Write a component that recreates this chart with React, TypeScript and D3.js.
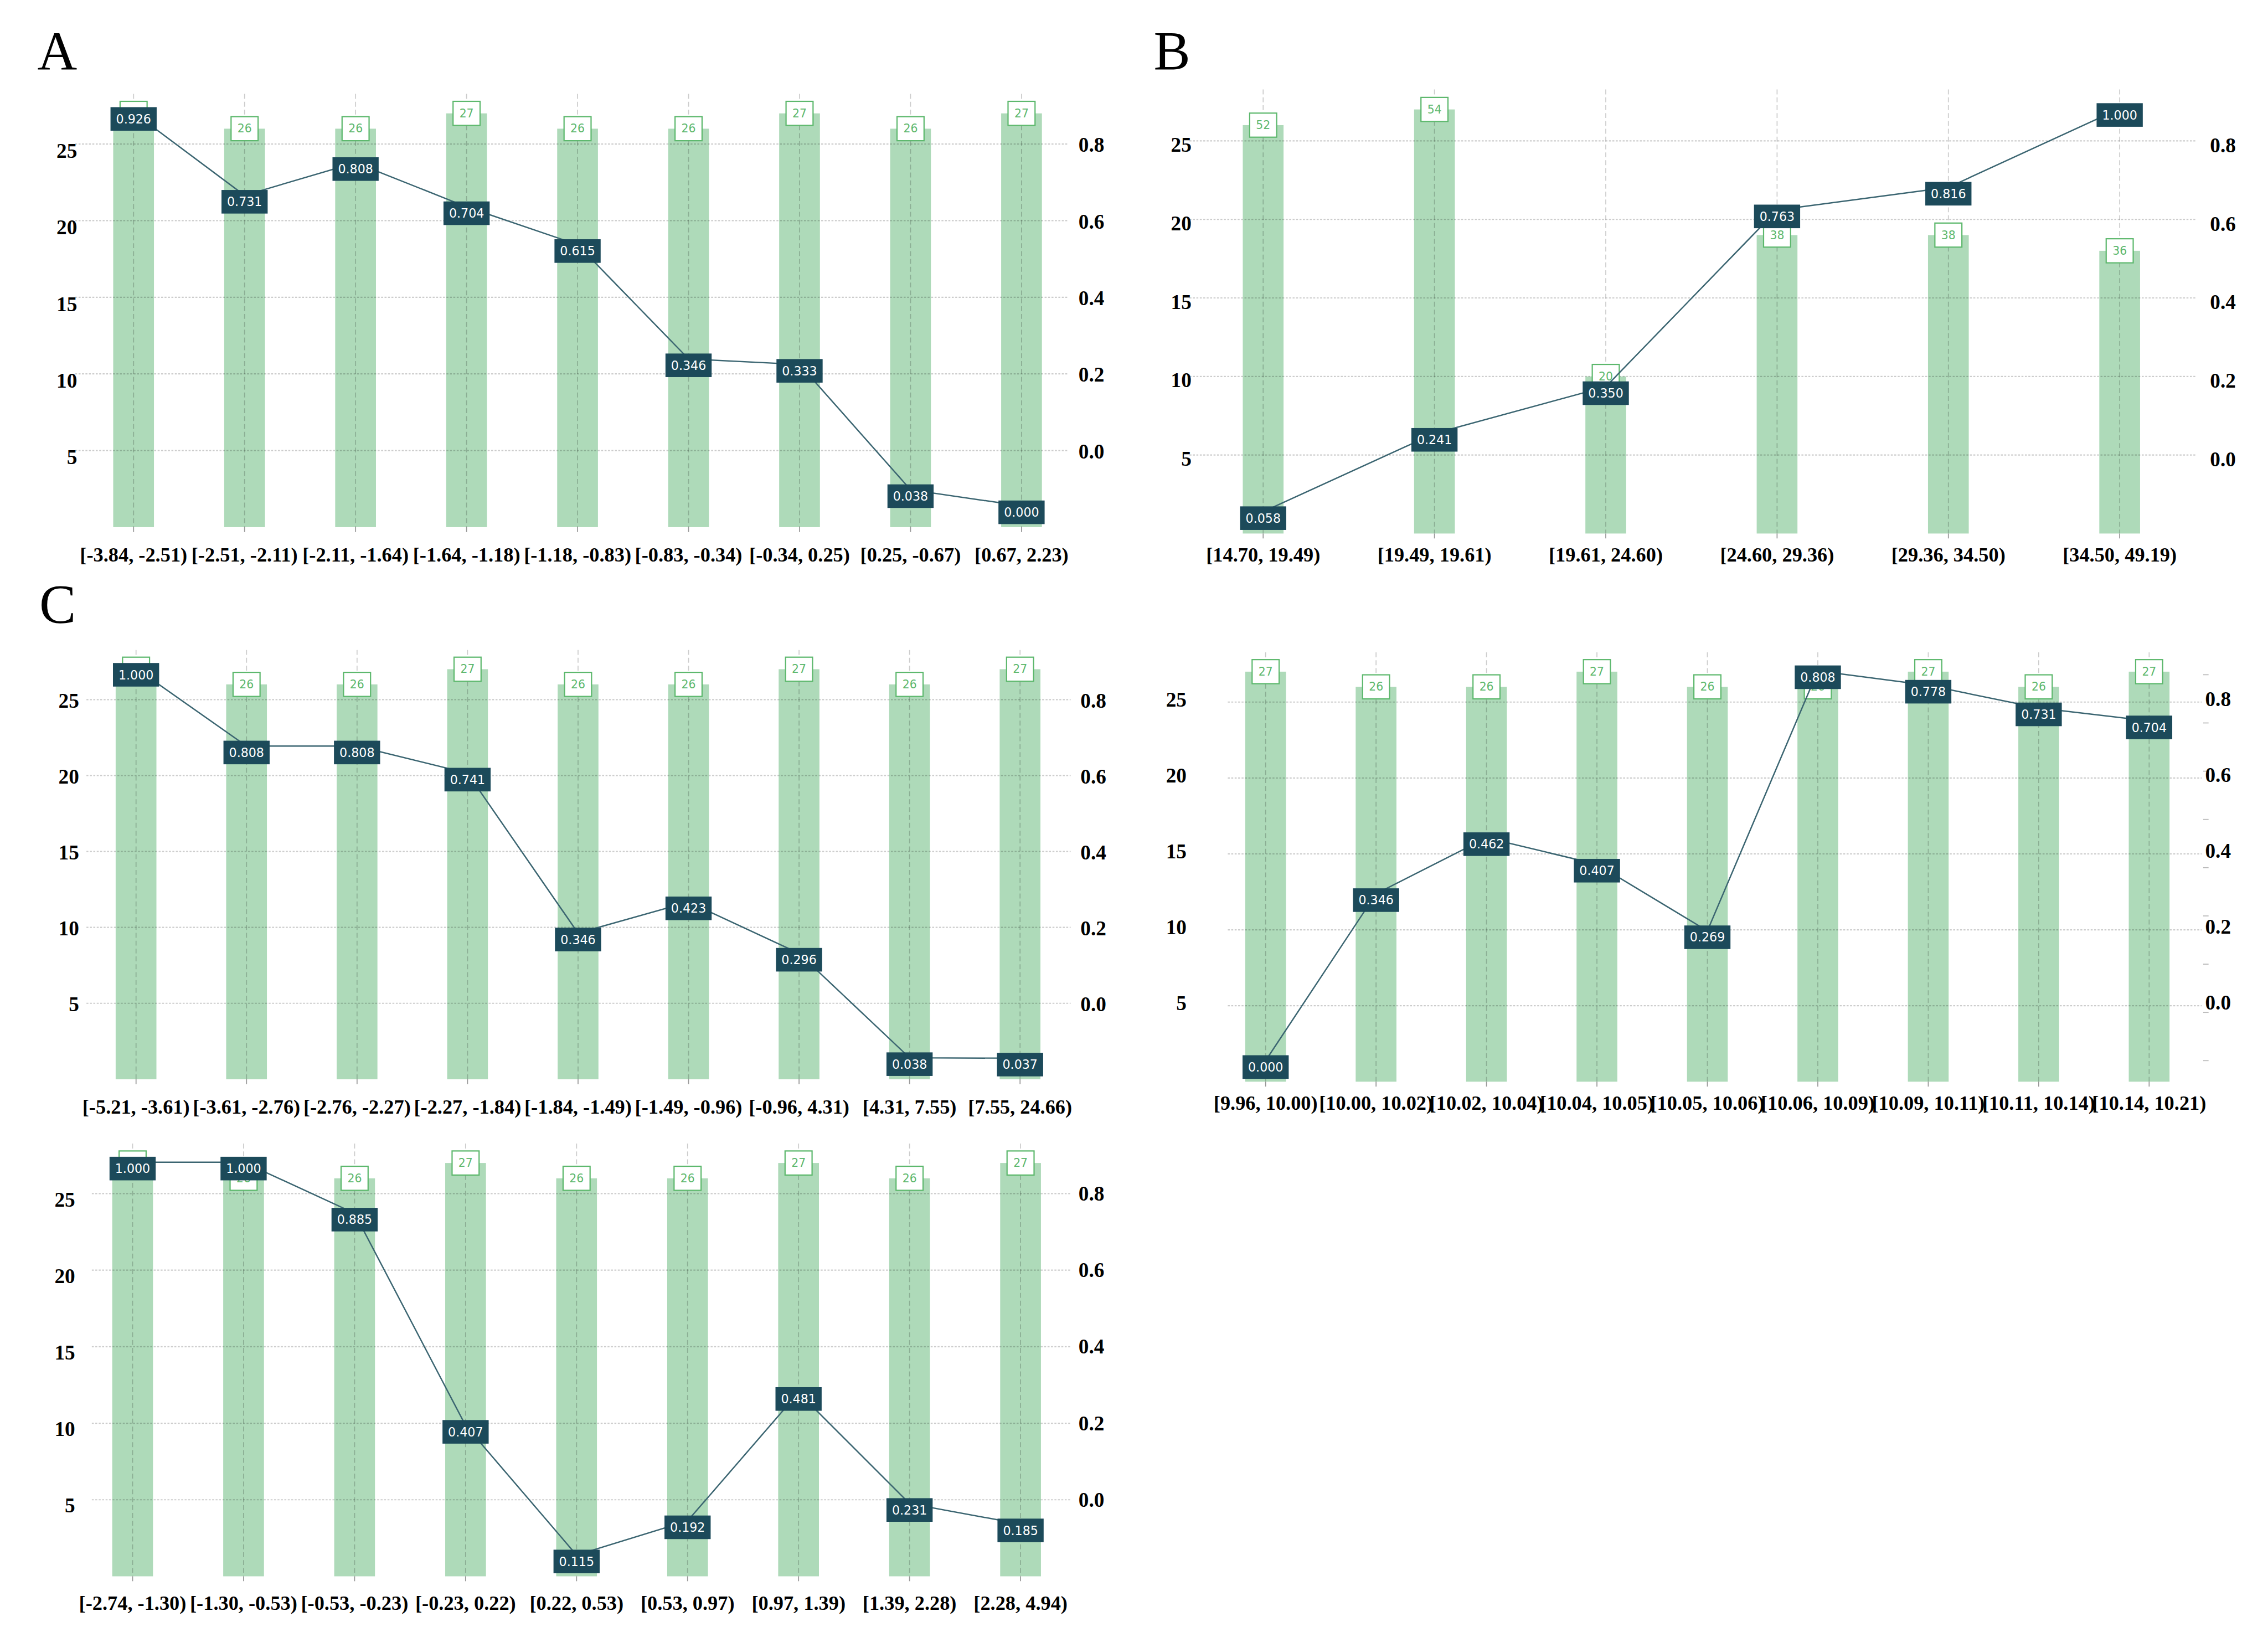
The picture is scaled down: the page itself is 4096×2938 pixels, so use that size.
import * as d3 from "d3";

// ---- data ----
const CATS_A = ["[-3.84, -2.51)", "[-2.51, -2.11)", "[-2.11, -1.64)", "[-1.64, -1.18)", "[-1.18, -0.83)", "[-0.83, -0.34)", "[-0.34, 0.25)", "[0.25, -0.67)", "[0.67, 2.23)"];
const COUNTS_A = [27, 26, 26, 27, 26, 26, 27, 26, 27];
const RATES_A = [0.926, 0.731, 0.808, 0.704, 0.615, 0.346, 0.333, 0.038, 0.0];

const CATS_B = ["[14.70, 19.49)", "[19.49, 19.61)", "[19.61, 24.60)", "[24.60, 29.36)", "[29.36, 34.50)", "[34.50, 49.19)"];
const COUNTS_B = [52, 54, 20, 38, 38, 36];
const RATES_B = [0.058, 0.241, 0.35, 0.763, 0.816, 1.0];

const CATS_C = ["[-5.21, -3.61)", "[-3.61, -2.76)", "[-2.76, -2.27)", "[-2.27, -1.84)", "[-1.84, -1.49)", "[-1.49, -0.96)", "[-0.96, 4.31)", "[4.31, 7.55)", "[7.55, 24.66)"];
const COUNTS_C = [27, 26, 26, 27, 26, 26, 27, 26, 27];
const RATES_C = [1.0, 0.808, 0.808, 0.741, 0.346, 0.423, 0.296, 0.038, 0.037];

const CATS_D = ["[9.96, 10.00)", "[10.00, 10.02)", "[10.02, 10.04)", "[10.04, 10.05)", "[10.05, 10.06)", "[10.06, 10.09)", "[10.09, 10.11)", "[10.11, 10.14)", "[10.14, 10.21)"];
const COUNTS_D = [27, 26, 26, 27, 26, 26, 27, 26, 27];
const RATES_D = [0.0, 0.346, 0.462, 0.407, 0.269, 0.808, 0.778, 0.731, 0.704];

const CATS_E = ["[-2.74, -1.30)", "[-1.30, -0.53)", "[-0.53, -0.23)", "[-0.23, 0.22)", "[0.22, 0.53)", "[0.53, 0.97)", "[0.97, 1.39)", "[1.39, 2.28)", "[2.28, 4.94)"];
const COUNTS_E = [27, 26, 26, 27, 26, 26, 27, 26, 27];
const RATES_E = [1.0, 1.0, 0.885, 0.407, 0.115, 0.192, 0.481, 0.231, 0.185];

const LEFT_TICKS = [5, 10, 15, 20, 25];
const RIGHT_TICKS = [0, 0.2, 0.4, 0.6, 0.8];

// ---- styling ----
const W = 4618;
const H = 3312;
const SERIF = "'Liberation Serif', 'Times New Roman', serif";
const SANS = "'DejaVu Sans', Verdana, sans-serif";
const BAR = "#aedab9";
const COUNT_GREEN = "#5db86d";
const BOX = "#1c4a5a";
const LINE = "#3b6571";
const AXIS_MAX = 28.27; // left axis top
const RIGHT_MAX = (AXIS_MAX - 5) / 25; // right axis sits on the left ticks 5..25

interface PanelSpec {
  letter?: string;
  letterX?: number;
  letterY?: number;
  cats: string[];
  counts: number[];
  rates: number[];
  x0: number;
  x1: number;
  top: number;
  bottom: number;
  gridL: number;
  gridR: number;
  leftX: number;
  leftDy: number;
  rightX: number;
  rightDy: number;
  labelDy: number;
  lineTicks?: boolean;
}

const panels: PanelSpec[] = [
  { letter: "A", letterX: 76, letterY: 142, cats: CATS_A, counts: COUNTS_A, rates: RATES_A,
    x0: 272, x1: 2080, top: 191, bottom: 1073, gridL: 153, gridR: 2175,
    leftX: 157, leftDy: 14, rightX: 2196, rightDy: 2, labelDy: 56 },
  { letter: "B", letterX: 2349, letterY: 141, cats: CATS_B, counts: COUNTS_B, rates: RATES_B,
    x0: 2572, x1: 4316, top: 182, bottom: 1086, gridL: 2422, gridR: 4471,
    leftX: 2426, leftDy: 8, rightX: 4500, rightDy: 9, labelDy: 43 },
  { letter: "C", letterX: 80, letterY: 1267, cats: CATS_C, counts: COUNTS_C, rates: RATES_C,
    x0: 277, x1: 2077, top: 1323, bottom: 2197, gridL: 176, gridR: 2180,
    leftX: 161, leftDy: 2, rightX: 2200, rightDy: 2, labelDy: 56 },
  { cats: CATS_D, counts: COUNTS_D, rates: RATES_D,
    x0: 2577, x1: 4376, top: 1328, bottom: 2202, gridL: 2500, gridR: 4483,
    leftX: 2416, leftDy: -5, rightX: 4490, rightDy: -6, labelDy: 44, lineTicks: true },
  { cats: CATS_E, counts: COUNTS_E, rates: RATES_E,
    x0: 270, x1: 2078, top: 2328, bottom: 3209, gridL: 187, gridR: 2179,
    leftX: 153, leftDy: 12, rightX: 2196, rightDy: 0, labelDy: 55 },
];

const Panel = ({ p }: { p: PanelSpec }) => {
  const h = p.bottom - p.top;
  const x = d3.scalePoint<string>().domain(p.cats).range([p.x0, p.x1]);
  const axisY = d3.scaleLinear().domain([0, AXIS_MAX]).range([p.bottom, p.top]);
  const rightY = d3.scaleLinear().domain([-0.2, RIGHT_MAX]).range([p.bottom, p.top]);
  const barY = d3
    .scaleLinear()
    .domain([0, (d3.max(p.counts) as number) * 1.047])
    .range([p.bottom, p.top]);
  const lineY = d3
    .scaleLinear()
    .domain(d3.extent(p.rates) as [number, number])
    .range([p.bottom - 0.049 * h, p.bottom - 0.957 * h]);
  const line = d3
    .line<number>()
    .x((_, i) => x(p.cats[i]) as number)
    .y((d) => lineY(d));
  const fmt3 = d3.format(".3f");
  const fmt1 = d3.format(".1f");
  const barW = 83;

  return (
    <g>
      {p.letter && (
        <text x={p.letterX} y={p.letterY} fontFamily={SERIF} fontSize={112} fill="#000">
          {p.letter}
        </text>
      )}

      {/* bars */}
      {p.counts.map((c, i) => (
        <rect
          key={"b" + i}
          x={(x(p.cats[i]) as number) - barW / 2}
          y={barY(c)}
          width={barW}
          height={p.bottom - barY(c)}
          fill={BAR}
        />
      ))}

      {/* horizontal grid */}
      {LEFT_TICKS.map((t) => (
        <line
          key={"h" + t}
          x1={p.gridL}
          x2={p.gridR}
          y1={axisY(t)}
          y2={axisY(t)}
          stroke="#000"
          strokeOpacity={0.2}
          strokeWidth={2.5}
          strokeDasharray="4 3"
        />
      ))}

      {/* vertical grid + x ticks */}
      {p.cats.map((c) => (
        <g key={"v" + c}>
          <line
            x1={x(c)}
            x2={x(c)}
            y1={p.top}
            y2={p.bottom}
            stroke="#000"
            strokeOpacity={0.2}
            strokeWidth={2}
            strokeDasharray="10 6"
          />
          <line x1={x(c)} x2={x(c)} y1={p.bottom} y2={p.bottom + 10} stroke="#999" strokeWidth={2} />
        </g>
      ))}

      {/* line axis minor ticks */}
      {p.lineTicks &&
        lineY.ticks(8).map((t) => (
          <line key={"lt" + t} x1={p.gridR + 3} x2={p.gridR + 14} y1={lineY(t)} y2={lineY(t)} stroke="#bbb" strokeWidth={2} />
        ))}

      {/* left axis labels */}
      {LEFT_TICKS.map((t) => (
        <text
          key={"l" + t}
          x={p.leftX}
          y={axisY(t) + p.leftDy}
          textAnchor="end"
          dominantBaseline="central"
          fontFamily={SERIF}
          fontWeight="bold"
          fontSize={42}
        >
          {t}
        </text>
      ))}

      {/* right axis labels */}
      {RIGHT_TICKS.map((t) => (
        <text
          key={"r" + t}
          x={p.rightX}
          y={rightY(t) + p.rightDy}
          textAnchor="start"
          dominantBaseline="central"
          fontFamily={SERIF}
          fontWeight="bold"
          fontSize={42}
        >
          {fmt1(t)}
        </text>
      ))}

      {/* x labels */}
      {p.cats.map((c) => (
        <text
          key={"x" + c}
          x={x(c)}
          y={p.bottom + p.labelDy}
          textAnchor="middle"
          dominantBaseline="central"
          fontFamily={SERIF}
          fontWeight="bold"
          fontSize={41}
        >
          {c}
        </text>
      ))}

      {/* count labels */}
      {p.counts.map((c, i) => (
        <g key={"c" + i} transform={`translate(${x(p.cats[i])},${barY(c)})`}>
          <rect x={-27.5} y={-24.5} width={55} height={49} fill="#fff" stroke={COUNT_GREEN} strokeWidth={2.5} />
          <text textAnchor="middle" dominantBaseline="central" fontFamily={SANS} fontSize={23} fill={COUNT_GREEN}>
            {c}
          </text>
        </g>
      ))}

      {/* rate line */}
      <path d={line(p.rates) as string} fill="none" stroke={LINE} strokeWidth={2.8} />

      {/* rate labels */}
      {p.rates.map((r, i) => (
        <g key={"p" + i} transform={`translate(${x(p.cats[i])},${lineY(r) + 13})`}>
          <rect x={-47} y={-24} width={94} height={48} fill={BOX} />
          <text textAnchor="middle" dominantBaseline="central" fontFamily={SANS} fontSize={25} fill="#fff">
            {fmt3(r)}
          </text>
        </g>
      ))}
    </g>
  );
};

const App = () => {
  return (
    <div style={{ position: "fixed", left: 0, top: 0, width: 4096, height: 2938, background: "#fff" }}>
      <svg width={4096} height={2938} viewBox={`0 0 ${W} ${H}`} style={{ display: "block" }}>
        <rect width={W} height={H} fill="#fff" />
        {panels.map((p, i) => (
          <Panel key={i} p={p} />
        ))}
      </svg>
    </div>
  );
};

export default App;
